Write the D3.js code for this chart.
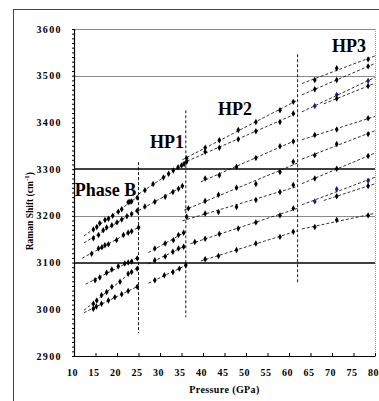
<!DOCTYPE html>
<html>
<head>
<meta charset="utf-8">
<script src="https://cdn.jsdelivr.net/npm/d3@7"></script>
<style>
  body { margin: 0; background: #fff; }
  svg text { font-family: "Liberation Serif", "DejaVu Serif", serif; font-weight: bold; fill: #000; }
</style>
</head>
<body>
<div id="chart"></div>
<script>
// pressure (GPa), Raman shift (cm-1), one array of series per phase
const phaseB = [
  [[14.5,3171],[15.3,3176],[16,3184],[17.2,3191],[18,3194],[19,3200],[20.3,3209],[21.1,3214],[22.6,3229],[23,3230],[23.4,3231],[24.7,3239]],
  [[14.5,3152],[15.7,3159],[16.8,3169],[17.6,3175],[18.8,3180],[20,3186],[21.1,3192],[22.3,3199],[23.4,3204],[24.7,3211]],
  [[14.1,3119],[15.7,3130],[16.5,3133],[17.2,3137],[18,3139],[19.9,3148],[21.5,3159],[22.6,3164],[23.4,3167],[25,3175]],
  [[14.9,3062],[16,3068],[17.6,3078],[18.8,3085],[20.3,3092],[21.8,3098],[22.6,3100],[23.4,3102],[24.7,3109]],
  [[14.5,3012],[15.3,3019],[16.4,3030],[17.6,3037],[18.8,3048],[20.7,3059],[22.6,3076],[23.4,3080],[24.7,3087]],
  [[14.5,3001],[15.2,3006],[16.4,3012],[18,3019],[19.5,3026],[21.1,3032],[22.6,3039],[24.7,3048]]
];
const phaseHP1 = [
  [[26.5,3255],[28.4,3268],[30.8,3282],[32,3290],[33.1,3297],[34.2,3304],[35,3308],[35.6,3311]],
  [[26.5,3220],[28.8,3230],[31.2,3241],[33,3251],[34.3,3258],[35.2,3264]],
  [[28.8,3130],[31.2,3141],[33.1,3148],[34.3,3159],[35.5,3164]],
  [[28.8,3105],[31.2,3113],[33,3123],[34.3,3130],[35.5,3134]],
  [[28.8,3062],[31,3073],[33,3080],[34.5,3087],[36,3094]]
];
const phaseHP2 = [
  [[36.2,3323],[40.5,3346],[43.8,3362],[48.2,3384],[52.3,3401],[57.9,3426],[61,3444]],
  [[36.2,3316],[40.5,3337],[43.8,3346],[48.2,3364],[52.3,3381],[57.9,3401],[61,3419]],
  [[40.5,3280],[43.8,3287],[47.8,3305],[52.3,3324],[57.9,3349],[61,3359]],
  [[36.6,3216],[40.5,3232],[43.6,3245],[47.8,3260],[52.3,3268],[57.9,3294],[61,3316]],
  [[36.2,3198],[40.5,3205],[43.6,3208],[47.8,3219],[52.3,3234],[57.9,3251],[61,3266]],
  [[38.1,3144],[40.5,3151],[43.8,3161],[48.2,3173],[52.3,3186],[57.9,3201],[61,3216]],
  [[40.5,3107],[43.6,3114],[47.8,3127],[52.3,3141],[57.9,3155],[61,3166]]
];
const phaseHP3 = [
  [[66,3491],[71.1,3516],[78.4,3535]],
  [[66,3471],[71.1,3491],[78.4,3520]],
  [[66,3435],[71.1,3459],[78.4,3489]],
  [[71.1,3451],[78.4,3478]],
  [[66,3373],[71.1,3385],[78.4,3409]],
  [[66,3330],[71.1,3354],[78.4,3375]],
  [[66,3280],[71.1,3301],[78.4,3328]],
  [[66,3231],[71.1,3257],[78.4,3275]],
  [[71.1,3242],[78.4,3264]],
  [[66,3176],[71.1,3191],[78.4,3201]]
];
const hp3BlueSeries = [2, 7];
const phaseNames = ["Phase B", "HP1", "HP2", "HP3"];
const phaseBoundaries = [25, 36, 62];
const yTickLabels = [2900, 3000, 3100, 3200, 3300, 3400, 3500, 3600];
const xTickLabels = [10, 15, 20, 25, 30, 35, 40, 45, 50, 55, 60, 65, 70, 75, 80];
const blackGrid = [3300, 3100];
const greyGrid = [3600, 3500, 3200];

const width = 379, height = 401;
const margin = { top: 29, right: 4, bottom: 45, left: 74 };

const svg = d3.select("#chart").append("svg")
  .attr("width", width).attr("height", height);

const x = d3.scaleLinear().domain([10, 80]).range([margin.left, width - margin.right]);
const y = d3.scaleLinear().domain([2900, 3600]).range([height - margin.bottom, margin.top]);

// outer frame (left and top edges only are visible)
svg.append("line").attr("x1", 13.5).attr("x2", 13.5).attr("y1", 9).attr("y2", height)
  .attr("stroke", "#444").attr("stroke-width", 1);
svg.append("line").attr("x1", 13).attr("x2", width).attr("y1", 9.5).attr("y2", 9.5)
  .attr("stroke", "#444").attr("stroke-width", 1);

// gridlines
svg.append("g").selectAll("line").data(greyGrid).join("line")
  .attr("x1", x(10)).attr("x2", x(80))
  .attr("y1", d => Math.round(y(d)) + 0.5).attr("y2", d => Math.round(y(d)) + 0.5)
  .attr("stroke", "#8a8a8a").attr("stroke-width", 1);
svg.append("g").selectAll("line").data(blackGrid).join("line")
  .attr("x1", x(10)).attr("x2", x(80))
  .attr("y1", d => Math.round(y(d))).attr("y2", d => Math.round(y(d)))
  .attr("stroke", "#000").attr("stroke-width", 1.6);

// right border of the plot area
svg.append("line").attr("x1", x(80) + 0.5).attr("x2", x(80) + 0.5)
  .attr("y1", y(3600)).attr("y2", y(2900))
  .attr("stroke", "#999").attr("stroke-width", 1).attr("stroke-dasharray", "1,1");

// y axis with fine ticks
const yAxis = d3.axisLeft(y).tickValues(d3.range(2900, 3601, 10)).tickSize(2).tickFormat("");
const gy = svg.append("g").attr("transform", `translate(${x(10)},0)`).call(yAxis);
gy.selectAll("path, line").attr("stroke", "#000");
gy.select(".domain").attr("stroke-width", 1.2);

svg.append("g").selectAll("text").data(yTickLabels).join("text")
  .attr("x", 62).attr("y", d => y(d) + 3.5)
  .attr("text-anchor", "end").attr("font-size", 10).attr("letter-spacing", 1.4)
  .text(d => d);

// x axis, ticks pointing inward
const xAxis = d3.axisBottom(x).tickValues(xTickLabels).tickSize(-3).tickFormat("").tickSizeOuter(0);
const gx = svg.append("g").attr("transform", `translate(0,${y(2900)})`).call(xAxis);
gx.selectAll("path, line").attr("stroke", "#000");
gx.select(".domain").attr("stroke-width", 1.2);

svg.append("g").selectAll("text").data(xTickLabels).join("text")
  .attr("x", d => x(d) - 1.5).attr("y", y(2900) + 20)
  .attr("text-anchor", "middle").attr("font-size", 10).attr("letter-spacing", 0.6)
  .text(d => d);

svg.append("text")
  .attr("x", x(45)).attr("y", 393)
  .attr("text-anchor", "middle").attr("font-size", 10).attr("letter-spacing", 0.4)
  .text("Pressure (GPa)");

const yTitle = svg.append("text")
  .attr("transform", `translate(33,${y(3210)}) rotate(-90)`)
  .attr("text-anchor", "middle").attr("font-size", 9.5);
yTitle.append("tspan").text("Raman Shift (cm");
yTitle.append("tspan").attr("dy", -4).attr("font-size", 7).text("-1");
yTitle.append("tspan").attr("dy", 4).text(")");

// phase boundaries
const boundarySpan = [[3315, 2949], [3426, 2983], [3546, 3056]];
svg.append("g").selectAll("line").data(phaseBoundaries).join("line")
  .attr("x1", d => x(d)).attr("x2", d => x(d))
  .attr("y1", (d, i) => y(boundarySpan[i][0])).attr("y2", (d, i) => y(boundarySpan[i][1]))
  .attr("stroke", "#000").attr("stroke-width", 0.9).attr("stroke-dasharray", "3,2");

// phase names
const nameAnchors = [[10.2, 3242], [27.7, 3345], [43.5, 3416], [70, 3551]];
svg.append("g").selectAll("text").data(phaseNames).join("text")
  .attr("x", (d, i) => x(nameAnchors[i][0])).attr("y", (d, i) => y(nameAnchors[i][1]))
  .attr("font-size", 18)
  .text(d => d);

// least squares trend line for a series
function fit(pts) {
  const mx = d3.mean(pts, d => d[0]), my = d3.mean(pts, d => d[1]);
  const sxx = d3.sum(pts, d => (d[0] - mx) ** 2);
  const sxy = d3.sum(pts, d => (d[0] - mx) * (d[1] - my));
  const k = sxx ? sxy / sxx : 0;
  return p => my + k * (p - mx);
}

const phases = [
  { series: phaseB, ext: [2.2, 0.4] },
  { series: phaseHP1, ext: [1.5, 0.4] },
  { series: phaseHP2, ext: [1.0, 1.0] },
  { series: phaseHP3, ext: [3.0, 1.6], blue: hp3BlueSeries }
];

const marker = d3.symbol().type(d3.symbolDiamond).size(12);

phases.forEach(ph => {
  ph.series.forEach((pts, si) => {
    const f = fit(pts);
    const p0 = d3.min(pts, d => d[0]) - ph.ext[0];
    const p1 = Math.min(80, d3.max(pts, d => d[0]) + ph.ext[1]);
    svg.append("line")
      .attr("x1", x(p0)).attr("y1", y(f(p0)))
      .attr("x2", x(p1)).attr("y2", y(f(p1)))
      .attr("stroke", "#000").attr("stroke-width", 0.8).attr("stroke-dasharray", "3,2");
    const isBlue = ph.blue && ph.blue.includes(si);
    svg.append("g").selectAll("path").data(pts).join("path")
      .attr("transform", d => `translate(${x(d[0])},${y(d[1])})`)
      .attr("d", marker)
      .attr("fill", isBlue ? "#1a1a90" : "#000");
  });
});
</script>
</body>
</html>
